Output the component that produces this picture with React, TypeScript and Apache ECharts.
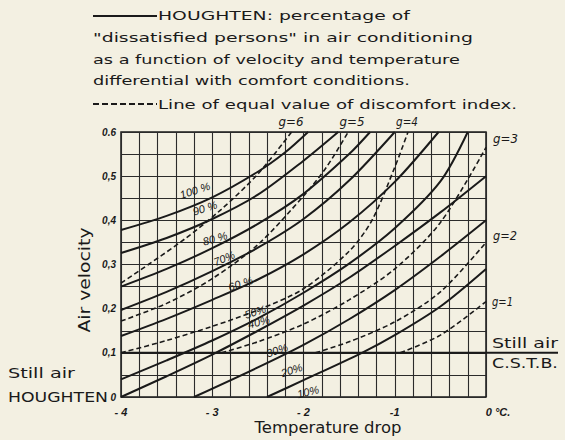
import React, { useEffect, useRef } from "react";
import * as echarts from "echarts";

const W = 565;
const H = 440;
const BG = "#f3f0e2";
const INK = "#1a1a1a";

// axis ticks
const xTickValues = [-4, -3, -2, -1, 0];
const xTickLabels = ["- 4", "- 3", "- 2", "-1", "0 °C."];
const yTickValues = [0, 0.1, 0.2, 0.3, 0.4, 0.5, 0.6];
const yTickLabels = ["0", "0,1", "0,2", "0,3", "0,4", "0,5", "0.6"];

// Houghten curves: [temperature drop °C, air velocity]
const h100 = [[-4, 0.378], [-3.5, 0.41], [-3, 0.452], [-2.5, 0.51], [-2.2, 0.554], [-1.95, 0.6]];
const h90 = [[-4, 0.326], [-3.5, 0.36], [-3, 0.403], [-2.5, 0.458], [-2, 0.535], [-1.62, 0.6]];
const h80 = [[-4, 0.25], [-3.5, 0.29], [-3, 0.337], [-2.5, 0.392], [-2, 0.46], [-1.5, 0.55], [-1.27, 0.6]];
const h70 = [[-4, 0.197], [-3.5, 0.238], [-3, 0.285], [-2.5, 0.338], [-2, 0.403], [-1.5, 0.49], [-1, 0.6]];
const h60 = [[-4, 0.138], [-3.5, 0.177], [-3, 0.22], [-2.5, 0.266], [-2, 0.323], [-1.5, 0.395], [-1, 0.487], [-0.52, 0.6]];
const h50 = [[-4, 0.04], [-3.5, 0.083], [-3, 0.128], [-2.5, 0.178], [-2, 0.236], [-1.5, 0.302], [-1, 0.382], [-0.5, 0.488], [-0.2, 0.6]];
const h40 = [[-4, 0], [-3.5, 0.047], [-3, 0.096], [-2.5, 0.15], [-2, 0.207], [-1.5, 0.27], [-1, 0.342], [-0.5, 0.418], [0, 0.5]];
const h30 = [[-3.2, 0], [-2.5, 0.067], [-2, 0.118], [-1.5, 0.176], [-1, 0.242], [-0.5, 0.318], [0, 0.4]];
const h20 = [[-2.4, 0], [-2, 0.038], [-1.36, 0.1], [-1, 0.14], [-0.5, 0.205], [0, 0.29]];

// lines of equal discomfort index g
const g6 = [[-4, 0.258], [-3.7, 0.3], [-3.3, 0.358], [-2.9, 0.425], [-2.5, 0.505], [-2.13, 0.6]];
const g5 = [[-4, 0.172], [-3.5, 0.212], [-3, 0.268], [-2.5, 0.345], [-2, 0.455], [-1.75, 0.52], [-1.51, 0.6]];
const g4 = [[-4, 0.1], [-3.5, 0.128], [-3, 0.16], [-2.5, 0.197], [-2, 0.245], [-1.5, 0.33], [-1.25, 0.4], [-1, 0.52], [-0.855, 0.6]];
const g3 = [[-2.9, 0.1], [-2.5, 0.125], [-2, 0.165], [-1.5, 0.22], [-1, 0.29], [-0.5, 0.395], [0, 0.565]];
const g2 = [[-1.87, 0.1], [-1.5, 0.125], [-1, 0.17], [-0.5, 0.238], [0, 0.35]];
const g1 = [[-0.94, 0.1], [-0.5, 0.14], [0, 0.216]];

const stillAir = [[-4, 0.1], [0, 0.1]];

// curve labels (positions in data units)
const pctText = ["100 %", "90 %", "80 %", "70%", "60 %", "50%", "40%", "30%", "20%", "10%"];
const pctX = [-3.19, -3.08, -2.97, -2.87, -2.69, -2.53, -2.49, -2.29, -2.13, -1.95];
const pctY = [0.468, 0.428, 0.359, 0.314, 0.257, 0.193, 0.17, 0.106, 0.061, 0.012];
const pctAngle = [18, 18, 16, 22, 18, 18, 14, 18, 18, 14];

function tickLabel(values: number[], labels: string[]) {
  return (v: number) => {
    for (let i = 0; i < values.length; i++) {
      if (Math.abs(v - values[i]) < 1e-6) return labels[i];
    }
    return "";
  };
}

const ctx2d: any = typeof document !== "undefined" ? document.createElement("canvas").getContext("2d") : null;
function fit(text: string, font: string, target: number) {
  if (!ctx2d) return 1;
  ctx2d.font = font;
  const w = ctx2d.measureText(text).width;
  return w > 0 ? target / w : 1;
}

function txt(text: string, x: number, y: number, size: number, target: number, opts: any = {}) {
  const family = opts.family || "DejaVu Sans";
  const style = opts.italic ? "italic " : "";
  const weight = opts.bold ? "bold " : "";
  const font = `${style}${weight}${size}px "${family}"`;
  const sx = target > 0 ? fit(text, font, target) : 1;
  return {
    type: "text",
    x,
    y,
    scaleX: sx,
    rotation: opts.rotation || 0,
    silent: true,
    z: 100,
    style: {
      text,
      fontSize: size,
      fontFamily: family,
      fontStyle: opts.italic ? "italic" : "normal",
      fontWeight: opts.bold ? "bold" : "normal",
      fill: INK,
      textAlign: opts.align || "left",
      align: opts.align || "left",
      textVerticalAlign: "middle",
      verticalAlign: "middle",
    },
  };
}

export default function App() {
  const ref = useRef<HTMLDivElement>(null);

  useEffect(() => {
    if (!ref.current) return;
    const chart = echarts.init(ref.current, null, { renderer: "svg" });

    const solid = (name: string, data: number[][]) => ({
      name,
      type: "line",
      data,
      smooth: 0.3,
      symbol: "none",
      silent: true,
      lineStyle: { color: INK, width: 2 },
      z: 5,
    });
    const dashed = (name: string, data: number[][]) => ({
      name,
      type: "line",
      data,
      smooth: 0.3,
      symbol: "none",
      silent: true,
      lineStyle: { color: INK, width: 1.6, type: [5, 3] },
      z: 4,
    });

    const option: any = {
      animation: false,
      backgroundColor: BG,
      grid: { left: 121, right: W - 486, top: 132, bottom: H - 397, show: true, borderColor: INK, borderWidth: 1.5 },
      xAxis: {
        type: "value",
        min: -4,
        max: 0,
        interval: 0.2,
        axisLine: { show: false },
        axisTick: { show: false },
        splitLine: { show: true, lineStyle: { color: "#2b2b2b", width: 1.1 } },
        axisLabel: {
          formatter: (v: number) => {
            const s = tickLabel(xTickValues, xTickLabels)(v);
            return s === xTickLabels[4] ? `{z|${s}}` : s;
          },
          margin: 9,
          color: INK,
          fontSize: 11,
          fontStyle: "italic",
          fontWeight: "bold",
          fontFamily: "Liberation Sans",
          rich: {
            z: { padding: [0, 0, 0, 24], fontSize: 11, fontStyle: "italic", fontWeight: "bold", fontFamily: "Liberation Sans", color: INK },
          },
        },
      },
      yAxis: {
        type: "value",
        min: 0,
        max: 0.6,
        interval: 0.05,
        axisLine: { show: false },
        axisTick: { show: false },
        splitLine: { show: true, lineStyle: { color: "#2b2b2b", width: 1.1 } },
        axisLabel: {
          formatter: tickLabel(yTickValues, yTickLabels),
          margin: 5,
          color: INK,
          fontSize: 10,
          fontStyle: "italic",
          fontWeight: "bold",
          fontFamily: "Liberation Sans",
        },
      },
      series: [
        solid("100%", h100),
        solid("90%", h90),
        solid("80%", h80),
        solid("70%", h70),
        solid("60%", h60),
        solid("50%", h50),
        solid("40%", h40),
        solid("30%", h30),
        solid("20%", h20),
        dashed("g=6", g6),
        dashed("g=5", g5),
        dashed("g=4", g4),
        dashed("g=3", g3),
        dashed("g=2", g2),
        dashed("g=1", g1),
        {
          name: "still air",
          type: "line",
          data: stillAir,
          symbol: "none",
          silent: true,
          lineStyle: { color: INK, width: 2 },
          z: 3,
        },
      ],
    };
    chart.setOption(option);

    const toPx = (x: number, y: number) => chart.convertToPixel({ gridIndex: 0 }, [x, y]) as number[];
    const p0 = toPx(0, 0.1);
    const legendSolidY = 16;
    const legendDashY = 104;

    const pctLabels = pctText.map((t, i) => {
      const p = toPx(pctX[i], pctY[i]);
      return txt(t, p[0], p[1], 11, 0, {
        italic: true,
        family: "Liberation Sans",
        align: "center",
        rotation: (pctAngle[i] * Math.PI) / 180,
      });
    });

    const graphic: any[] = [
      { type: "line", silent: true, shape: { x1: 93, y1: legendSolidY, x2: 157, y2: legendSolidY }, style: { stroke: INK, lineWidth: 2 } },
      { type: "line", silent: true, shape: { x1: 93, y1: legendDashY, x2: 157, y2: legendDashY }, style: { stroke: INK, lineWidth: 2, lineDash: [6, 3] } },
      { type: "line", silent: true, shape: { x1: p0[0], y1: p0[1], x2: 558, y2: p0[1] }, style: { stroke: INK, lineWidth: 2 } },
      txt("HOUGHTEN: percentage of", 158, 16, 13, 252),
      txt("\"dissatisfied persons\" in air conditioning", 93, 38, 13, 380),
      txt("as a function of velocity and temperature", 93, 60, 13, 367),
      txt("differential with comfort conditions.", 93, 81, 13, 317),
      txt("Line of equal value of discomfort index.", 158, 104, 13, 359),
      txt("g=6", 291, 122, 12, 25, { italic: true, align: "center" }),
      txt("g=5", 352, 122, 12, 25, { italic: true, align: "center" }),
      txt("g=4", 407, 122, 12, 22, { italic: true, align: "center" }),
      txt("g=3", 493, 139, 12, 25, { italic: true }),
      txt("g=2", 493, 236, 12, 24, { italic: true }),
      txt("g=1", 492, 302, 12, 21, { italic: true }),
      txt("Still air", 492, 343, 14, 66),
      txt("C.S.T.B.", 492, 363, 14, 66),
      txt("Still air", 8, 373, 14, 67),
      txt("HOUGHTEN", 8, 397, 14, 100),
      txt("Air velocity", 85, 280, 15, 105, { rotation: Math.PI / 2, align: "center" }),
      txt("Temperature drop", 328, 428, 15, 147, { align: "center" }),
      ...pctLabels,
    ];
    chart.setOption({ graphic });

    return () => chart.dispose();
  }, []);

  return (
    <div
      ref={ref}
      style={{ position: "fixed", left: 0, top: 0, width: W, height: H, background: BG }}
    />
  );
}
